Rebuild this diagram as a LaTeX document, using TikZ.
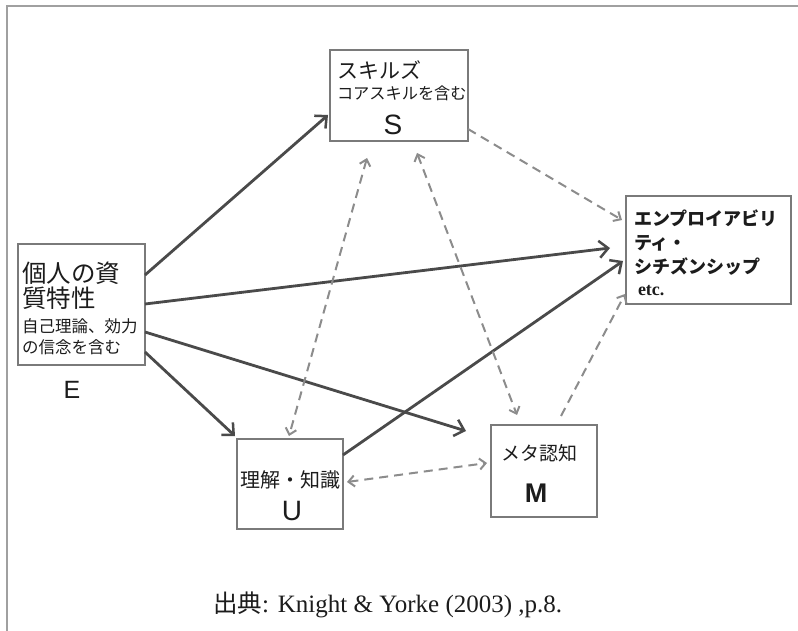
\documentclass[tikz,border=0pt]{standalone}
\usepackage{fontspec}
\setmainfont{Liberation Serif}
\newfontfamily\jp{Noto Sans CJK JP}
\newfontfamily\arl{Liberation Sans}
\usetikzlibrary{arrows.meta,calc}
\newcommand\myfs[1]{\fontsize{#1}{#1}\selectfont}
\definecolor{boxgray}{HTML}{7A7A7A}
\definecolor{solidgray}{HTML}{4A4A4A}
\definecolor{dashgray}{HTML}{8C8C8C}
\definecolor{txt}{HTML}{1C1C1C}
\definecolor{framegray}{HTML}{A0A0A0}
\begin{document}
\begin{tikzpicture}[x=1pt,y=-1pt,
  box/.style={draw=boxgray,line width=2pt,rectangle,inner sep=0pt,outer sep=0pt},
  lbl/.style={inner sep=0pt,outer sep=0pt,text=txt},
  solidarrow/.style={draw=solidgray,line width=2.8pt,-{Straight Barb[length=9pt,width=17pt,line width=2.5pt]}},
  dasharrow/.style={draw=dashgray,line width=2pt,dash pattern=on 9pt off 6pt,-{Straight Barb[length=6pt,width=11pt,line width=2pt]}},
  dashboth/.style={dasharrow,{Straight Barb[length=6pt,width=11pt,line width=2pt]}-{Straight Barb[length=6pt,width=11pt,line width=2pt]}}
]
\useasboundingbox (0,0) rectangle (798,631);
\fill[white] (0,0) rectangle (798,631);
% outer frame (left and top edges)
\draw[framegray,line width=2pt] (7,631) -- (7,6) -- (798,6);

% boxes
\node[box,minimum width=127pt,minimum height=121pt] (E) at (81.5,304.5) {};
\node[box,minimum width=138pt,minimum height=91pt] (S) at (399,95.5) {};
\node[box,minimum width=165pt,minimum height=108pt] (EM) at (708.5,250) {};
\node[box,minimum width=106pt,minimum height=90pt] (U) at (290,484) {};
\node[box,minimum width=106pt,minimum height=92pt] (M) at (544,471) {};

% E texts
\node[lbl,anchor=west] (e1) at (22,273) {\jp\myfs{24.5}個人の資};
\node[lbl,anchor=west] (e2) at (22,298) {\jp\myfs{24.5}質特性};
\node[lbl,anchor=west] (e3) at (22,326) {\jp\myfs{16.5}自己理論、効力};
\node[lbl,anchor=west] (e4) at (22,347) {\jp\myfs{16.5}の信念を含む};
\node[lbl] (eL) at (72,390) {\arl\myfs{25}E};

% S texts
\node[lbl,anchor=west] (s1) at (337,70) {\jp\myfs{21}スキルズ};
\node[lbl,anchor=west] (s2) at (337,93) {\jp\myfs{16.2}コアスキルを含む};
\node[lbl] (sL) at (393,125) {\arl\myfs{28}S};

% Employability texts
\node[lbl,anchor=west] (m1) at (634,218) {\jp\bfseries\myfs{18}エンプロイアビリ};
\node[lbl,anchor=west] (m2) at (634,243) {\jp\bfseries\myfs{18}ティ・};
\node[lbl,anchor=west] (m3) at (634,267) {\jp\bfseries\myfs{18}シチズンシップ};
\node[lbl,anchor=west] (m4) at (638,291) {\bfseries\myfs{18}etc.};

% U texts
\node[lbl] (u1) at (290,480) {\jp\myfs{20}理解・知識};
\node[lbl] (uL) at (292,511) {\arl\myfs{28}U};

% M texts
\node[lbl,anchor=west] (k1) at (501,453) {\jp\myfs{19}メタ認知};
\node[lbl] (kL) at (536,493) {\arl\bfseries\myfs{27}M};

% caption
\node[lbl,anchor=west] (cap) at (213,605) {{\jp\myfs{24.5}出典}\myfs{25}:\hspace{9pt}Knight \& Yorke (2003) ,p.8.};

% solid arrows
\draw[solidarrow] ($(E.north east)+(0,31)$) -- ($(S.south west)+(-2,-26)$);
\draw[solidarrow] ($(E.north east)+(0,60)$) -- ($(EM.north west)+(-16,52)$);
\draw[solidarrow] ($(E.north east)+(0,88)$) -- ($(M.north west)+(-25,6)$);
\draw[solidarrow] ($(E.south east)+(0,-13)$) -- ($(U.north west)+(-2,-3)$);
\draw[solidarrow] ($(U.north east)+(0,16)$) -- ($(EM.north west)+(-3,65)$);

% dashed arrows
\draw[dasharrow] ($(S.south east)+(0,-12)$) -- ($(EM.north west)+(-4,24)$);
\draw[dashboth] ($(S.south west)+(37,17)$) -- ($(U.north west)+(52,-3)$);
\draw[dashboth] ($(S.south west)+(87,12)$) -- ($(M.north west)+(26,-10)$);
\draw[dasharrow] ($(M.north west)+(70,-9)$) -- ($(EM.south west)+(-1,-10)$);
\draw[dashboth] ($(U.north east)+(4,43)$) -- ($(M.north west)+(-4,38)$);
\end{tikzpicture}
\end{document}
